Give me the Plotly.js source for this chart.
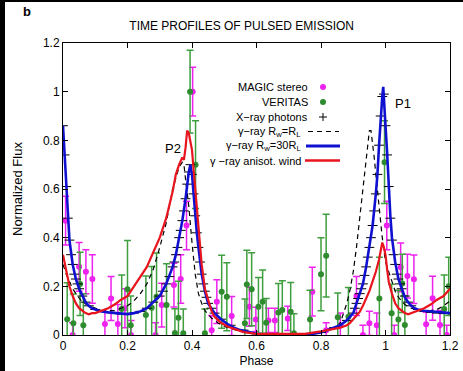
<!DOCTYPE html>
<html>
<head>
<meta charset="utf-8">
<script src="https://cdn.plot.ly/plotly-3.0.1.min.js"></script>
<style>
html,body{margin:0;padding:0;background:#fff;}
#chart{width:463px;height:371px;}
</style>
</head>
<body>
<div id="chart"></div>
<script>
// ---------------- DATA ----------------
const magicPhase = [0.008,0.030,0.050,0.071,0.091,0.130,0.149,0.170,0.192,0.211,0.287,0.306,0.344,0.365,0.383,0.402,0.461,0.477,0.523,0.578,0.598,0.637,0.657,0.697,0.773,0.816,0.860,0.910,0.930,0.950,0.973,1.004,1.027,1.047,1.068,1.088,1.126,1.146,1.169,1.190];
const magicFlux  = [0.47,0.00,0.28,0.26,0.23,0.045,0.15,0.045,0.11,0.00,0.00,0.123,0.205,0.23,0.45,1.00,0.02,0.137,0.078,0.116,0.064,0.06,0.06,0.068,0.178,0.02,0.04,0.16,0.00,0.048,0.04,0.45,0.00,0.278,0.242,0.229,0.044,0.151,0.041,0.00];
const magicErr   = [0.10,0.05,0.10,0.09,0.10,0.05,0.09,0.08,0.08,0.06,0.05,0.09,0.09,0.10,0.10,0.10,0.06,0.09,0.08,0.08,0.05,0.05,0.05,0.05,0.10,0.03,0.05,0.08,0.04,0.05,0.05,0.10,0.04,0.10,0.09,0.10,0.05,0.09,0.06,0.04];

const veritasPhase = [0.013,0.032,0.053,0.063,0.182,0.200,0.210,0.257,0.275,0.290,0.321,0.347,0.358,0.373,0.394,0.411,0.440,0.492,0.508,0.564,0.570,0.585,0.606,0.619,0.630,0.668,0.680,0.706,0.716,0.766,0.800,0.816,0.852,0.885,0.981,0.997,1.019,1.040,1.052,1.060,1.182,1.196];
const veritasFlux  = [0.065,0.048,0.21,0.04,0.107,0.188,0.04,0.082,0.112,0.157,0.123,0.008,0.071,0.007,1.00,0.70,0.007,0.178,0.157,0.048,0.208,0.188,0.116,0.137,0.05,0.092,0.103,0.096,0.007,0.064,0.25,0.326,0.073,0.075,0.15,0.71,0.089,0.064,0.212,0.041,0.107,0.20];
const veritasErr   = [0.15,0.12,0.13,0.13,0.14,0.20,0.12,0.16,0.17,0.18,0.17,0.10,0.15,0.10,0.17,0.18,0.10,0.15,0.14,0.10,0.14,0.15,0.12,0.13,0.10,0.12,0.12,0.12,0.08,0.12,0.15,0.17,0.10,0.12,0.17,0.17,0.12,0.12,0.12,0.12,0.14,0.12];

const xrayPhase = [0.000,0.005,0.010,0.015,0.020,0.025,0.030,0.035,0.040,0.045,0.050,0.060,0.070,0.080,0.100,0.120,0.140,0.160,0.180,0.200,0.220,0.240,0.260,0.280,0.300,0.310,0.320,0.330,0.340,0.345,0.350,0.355,0.360,0.365,0.370,0.375,0.380,0.385,0.390,0.395,0.400,0.405,0.410,0.415,0.420,0.425,0.430,0.435,0.440,0.445,0.450,0.460,0.470,0.490,0.520,0.560,0.600,0.650,0.700,0.750,0.800,0.840,0.880,0.900,0.905,0.910,0.915,0.920,0.925,0.930,0.935,0.940,0.945,0.950,0.955,0.960,0.965,0.970,0.975,0.980,0.985,0.990,0.995,1.000,1.005,1.010,1.015,1.020,1.025,1.030,1.035,1.040,1.045,1.050,1.060,1.070,1.080,1.100,1.120,1.140,1.160,1.180,1.200];
const xrayFlux  = [0.86,0.74,0.61,0.48,0.39,0.33,0.29,0.25,0.23,0.21,0.19,0.16,0.135,0.12,0.105,0.097,0.093,0.09,0.086,0.086,0.09,0.097,0.11,0.135,0.16,0.18,0.21,0.24,0.28,0.30,0.33,0.36,0.40,0.43,0.47,0.51,0.56,0.62,0.67,0.70,0.66,0.58,0.49,0.42,0.36,0.30,0.25,0.21,0.18,0.155,0.13,0.11,0.09,0.065,0.04,0.02,0.005,0.0,0.0,0.0,0.01,0.03,0.06,0.09,0.11,0.13,0.15,0.17,0.19,0.21,0.245,0.28,0.32,0.36,0.40,0.45,0.51,0.58,0.66,0.78,0.90,0.98,0.99,0.86,0.74,0.61,0.48,0.39,0.33,0.29,0.25,0.23,0.21,0.19,0.16,0.135,0.12,0.105,0.097,0.093,0.09,0.088,0.088];

const rlPhase = [0.000,0.010,0.020,0.030,0.040,0.050,0.060,0.080,0.100,0.120,0.140,0.160,0.180,0.200,0.220,0.240,0.260,0.280,0.300,0.320,0.340,0.350,0.360,0.370,0.375,0.380,0.390,0.400,0.410,0.420,0.430,0.440,0.460,0.480,0.500,0.550,0.600,0.750,0.800,0.830,0.850,0.860,0.870,0.880,0.890,0.900,0.910,0.920,0.930,0.940,0.950,0.955,0.960,0.965,0.970,0.980,0.990,1.000,1.010,1.020,1.030,1.040,1.060,1.080,1.100,1.120,1.140,1.160,1.180,1.200];
const rlFlux  = [0.29,0.25,0.22,0.19,0.17,0.15,0.135,0.12,0.11,0.10,0.10,0.10,0.11,0.12,0.14,0.17,0.21,0.27,0.36,0.46,0.60,0.65,0.69,0.71,0.70,0.64,0.53,0.38,0.25,0.17,0.13,0.10,0.07,0.05,0.035,0.015,0.005,0.0,0.01,0.025,0.03,0.05,0.09,0.13,0.185,0.26,0.36,0.48,0.61,0.74,0.84,0.84,0.79,0.73,0.66,0.52,0.40,0.30,0.26,0.22,0.18,0.155,0.125,0.11,0.105,0.10,0.10,0.105,0.12,0.14];

const r30Phase = [0.000,0.005,0.010,0.015,0.020,0.030,0.040,0.050,0.060,0.070,0.080,0.090,0.100,0.120,0.140,0.160,0.180,0.200,0.220,0.240,0.260,0.280,0.300,0.320,0.340,0.350,0.360,0.370,0.380,0.385,0.390,0.395,0.400,0.405,0.410,0.415,0.420,0.430,0.440,0.450,0.470,0.490,0.510,0.530,0.550,0.580,0.600,0.650,0.750,0.800,0.820,0.840,0.860,0.880,0.900,0.910,0.920,0.930,0.940,0.950,0.960,0.970,0.975,0.980,0.985,0.990,0.993,0.997,1.000,1.005,1.010,1.015,1.020,1.030,1.040,1.050,1.060,1.070,1.080,1.090,1.100,1.120,1.140,1.160,1.180,1.200];
const r30Flux  = [0.86,0.74,0.60,0.47,0.39,0.29,0.23,0.19,0.16,0.135,0.12,0.11,0.105,0.097,0.093,0.09,0.086,0.086,0.09,0.097,0.11,0.135,0.16,0.21,0.28,0.33,0.40,0.47,0.56,0.62,0.67,0.70,0.66,0.58,0.49,0.42,0.36,0.25,0.18,0.13,0.09,0.065,0.045,0.03,0.02,0.01,0.005,0.0,0.0,0.01,0.02,0.03,0.04,0.06,0.09,0.13,0.17,0.21,0.28,0.36,0.45,0.58,0.66,0.78,0.90,0.98,1.02,0.95,0.86,0.75,0.61,0.49,0.40,0.30,0.23,0.19,0.155,0.135,0.12,0.11,0.105,0.10,0.097,0.093,0.09,0.09];

const anisoPhase = [0.000,0.010,0.020,0.030,0.040,0.050,0.060,0.070,0.080,0.090,0.100,0.110,0.120,0.140,0.160,0.180,0.200,0.220,0.240,0.260,0.280,0.300,0.320,0.340,0.350,0.360,0.370,0.375,0.380,0.385,0.390,0.395,0.400,0.405,0.410,0.415,0.420,0.425,0.430,0.440,0.450,0.460,0.470,0.490,0.510,0.530,0.560,0.600,0.650,0.750,0.800,0.820,0.840,0.860,0.880,0.890,0.900,0.910,0.920,0.930,0.940,0.950,0.960,0.970,0.980,0.985,0.990,0.995,1.000,1.005,1.010,1.020,1.030,1.040,1.050,1.060,1.070,1.080,1.100,1.120,1.140,1.160,1.180,1.200];
const anisoFlux  = [0.33,0.26,0.20,0.16,0.13,0.11,0.10,0.09,0.085,0.09,0.09,0.095,0.10,0.11,0.125,0.145,0.16,0.20,0.24,0.28,0.34,0.40,0.48,0.59,0.66,0.70,0.73,0.72,0.77,0.84,0.83,0.80,0.76,0.68,0.60,0.52,0.44,0.36,0.29,0.19,0.14,0.10,0.075,0.05,0.035,0.025,0.012,0.005,0.005,0.005,0.015,0.02,0.025,0.03,0.04,0.05,0.065,0.08,0.095,0.12,0.15,0.18,0.22,0.26,0.31,0.35,0.38,0.36,0.33,0.27,0.22,0.17,0.13,0.11,0.10,0.09,0.085,0.09,0.10,0.11,0.125,0.145,0.16,0.19];

const tickVals = [0,0.2,0.4,0.6,0.8,1,1.2];
const tickText = ['0','0.2','0.4','0.6','0.8','1','1.2'];

const legendLabels = ['MAGIC stereo','VERITAS','X\u2212ray photons','\u03b3\u2212ray R<sub>w</sub>=R<sub>L</sub>','\u03b3\u2212ray R<sub>w</sub>=30R<sub>L</sub>','\u03b3 \u2212ray anisot. wind'];

// ---------------- STYLE / LAYOUT ----------------
const FONT = 'Liberation Sans, Arial, Helvetica, sans-serif';
const MAG = '#ee22ee', GRN = '#2e8b2e', GRNBAR = '#3f9f3f', BLU = '#1010d0', RED = '#e8141e';
const L = 63, T = 43, W = 387, H = 292;
const px = p => (p - L) / W;
const py = p => (T + H - p) / H;

const traces = [
  {x: magicPhase, y: magicFlux, type: 'scatter', mode: 'markers',
   marker: {color: MAG, size: 6},
   error_y: {type: 'data', array: magicErr, visible: true, color: MAG, thickness: 1.5, width: 3.5}},
  {x: veritasPhase, y: veritasFlux, type: 'scatter', mode: 'markers',
   marker: {color: GRN, size: 6},
   error_y: {type: 'data', array: veritasErr, visible: true, color: GRNBAR, thickness: 1.5, width: 3.5}},
  {x: xrayPhase, y: xrayFlux, type: 'scatter', mode: 'markers',
   marker: {symbol: 'line-ew-open', color: '#000', size: 7, line: {color: '#000', width: 1}}},
  {x: rlPhase, y: rlFlux, type: 'scatter', mode: 'lines',
   line: {color: '#000', width: 1.2, dash: '5px,4px'}},
  {x: r30Phase, y: r30Flux, type: 'scatter', mode: 'lines',
   line: {color: BLU, width: 2.6}},
  {x: anisoPhase, y: anisoFlux, type: 'scatter', mode: 'lines',
   line: {color: RED, width: 2.2}}
];

const rowsY = [87, 102, 117, 131.5, 146, 160.5];
const annotations = [];
const shapes = [];
rowsY.forEach((yy, i) => {
  annotations.push({xref: 'paper', yref: 'paper', x: px(i < 3 ? 310 : 303), y: py(yy),
    xanchor: 'right', yanchor: 'middle', showarrow: false, text: legendLabels[i],
    font: {family: FONT, size: 11, color: '#000'}});
});
// legend samples
shapes.push({type: 'circle', xref: 'paper', yref: 'paper', x0: px(320), x1: px(326), y0: py(90), y1: py(84), fillcolor: MAG, line: {color: MAG, width: 0}});
shapes.push({type: 'circle', xref: 'paper', yref: 'paper', x0: px(320), x1: px(326), y0: py(105), y1: py(99), fillcolor: GRN, line: {color: GRN, width: 0}});
shapes.push({type: 'line', xref: 'paper', yref: 'paper', x0: px(319), x1: px(327), y0: py(117), y1: py(117), line: {color: '#000', width: 1}});
shapes.push({type: 'line', xref: 'paper', yref: 'paper', x0: px(323), x1: px(323), y0: py(113), y1: py(121), line: {color: '#000', width: 1}});
shapes.push({type: 'line', xref: 'paper', yref: 'paper', x0: px(308), x1: px(339), y0: py(131.5), y1: py(131.5), line: {color: '#000', width: 1.2, dash: '5px,4px'}});
shapes.push({type: 'line', xref: 'paper', yref: 'paper', x0: px(306), x1: px(340), y0: py(146), y1: py(146), line: {color: BLU, width: 3}});
shapes.push({type: 'line', xref: 'paper', yref: 'paper', x0: px(305), x1: px(340), y0: py(160.5), y1: py(160.5), line: {color: RED, width: 2.5}});
// black frame strips (left and top)
shapes.push({type: 'rect', xref: 'paper', yref: 'paper', x0: px(0), x1: px(5), y0: py(371), y1: py(0), fillcolor: '#000', line: {width: 0}});
shapes.push({type: 'rect', xref: 'paper', yref: 'paper', x0: px(0), x1: px(463), y0: py(2), y1: py(0), fillcolor: '#000', line: {width: 0}});

annotations.push({xref: 'paper', yref: 'paper', x: px(27), y: py(12), xanchor: 'center', yanchor: 'middle', showarrow: false,
  text: '<b>b</b>', font: {family: FONT, size: 13, color: '#000'}});
annotations.push({xref: 'paper', yref: 'paper', x: px(173), y: py(148), xanchor: 'center', yanchor: 'middle', showarrow: false,
  text: 'P2', font: {family: FONT, size: 13, color: '#000'}});
annotations.push({xref: 'paper', yref: 'paper', x: px(403), y: py(103), xanchor: 'center', yanchor: 'middle', showarrow: false,
  text: 'P1', font: {family: FONT, size: 13, color: '#000'}});
annotations.push({xref: 'paper', yref: 'paper', x: px(17), y: py(189), xanchor: 'center', yanchor: 'middle', showarrow: false,
  textangle: -90, text: 'Normalized Flux', font: {family: FONT, size: 13, color: '#000'}});

const axisCommon = {
  range: [0, 1.2], tickvals: tickVals, ticktext: tickText,
  ticks: 'inside', ticklen: 5, tickwidth: 1, tickcolor: '#000',
  showline: true, linecolor: '#000', linewidth: 1, mirror: 'ticks',
  showgrid: false, zeroline: false,
  tickfont: {family: FONT, size: 12, color: '#000'}
};

const layout = {
  width: 463, height: 371,
  margin: {l: L, r: 463 - L - W, t: T, b: 371 - T - H, pad: 0},
  paper_bgcolor: '#fff', plot_bgcolor: '#fff',
  showlegend: false,
  font: {family: FONT, color: '#000'},
  title: {text: 'TIME PROFILES OF PULSED EMISSION', x: px(265), xanchor: 'center', y: 1 - 26 / 371, yanchor: 'middle',
          font: {family: FONT, size: 12, color: '#000'}},
  xaxis: Object.assign({}, axisCommon, {title: {text: 'Phase', font: {family: FONT, size: 12, color: '#000'}, standoff: 4}}),
  yaxis: Object.assign({}, axisCommon, {title: {text: ''}}),
  annotations: annotations,
  shapes: shapes
};

Plotly.newPlot('chart', traces, layout, {displayModeBar: false, staticPlot: true});
</script>
</body>
</html>
